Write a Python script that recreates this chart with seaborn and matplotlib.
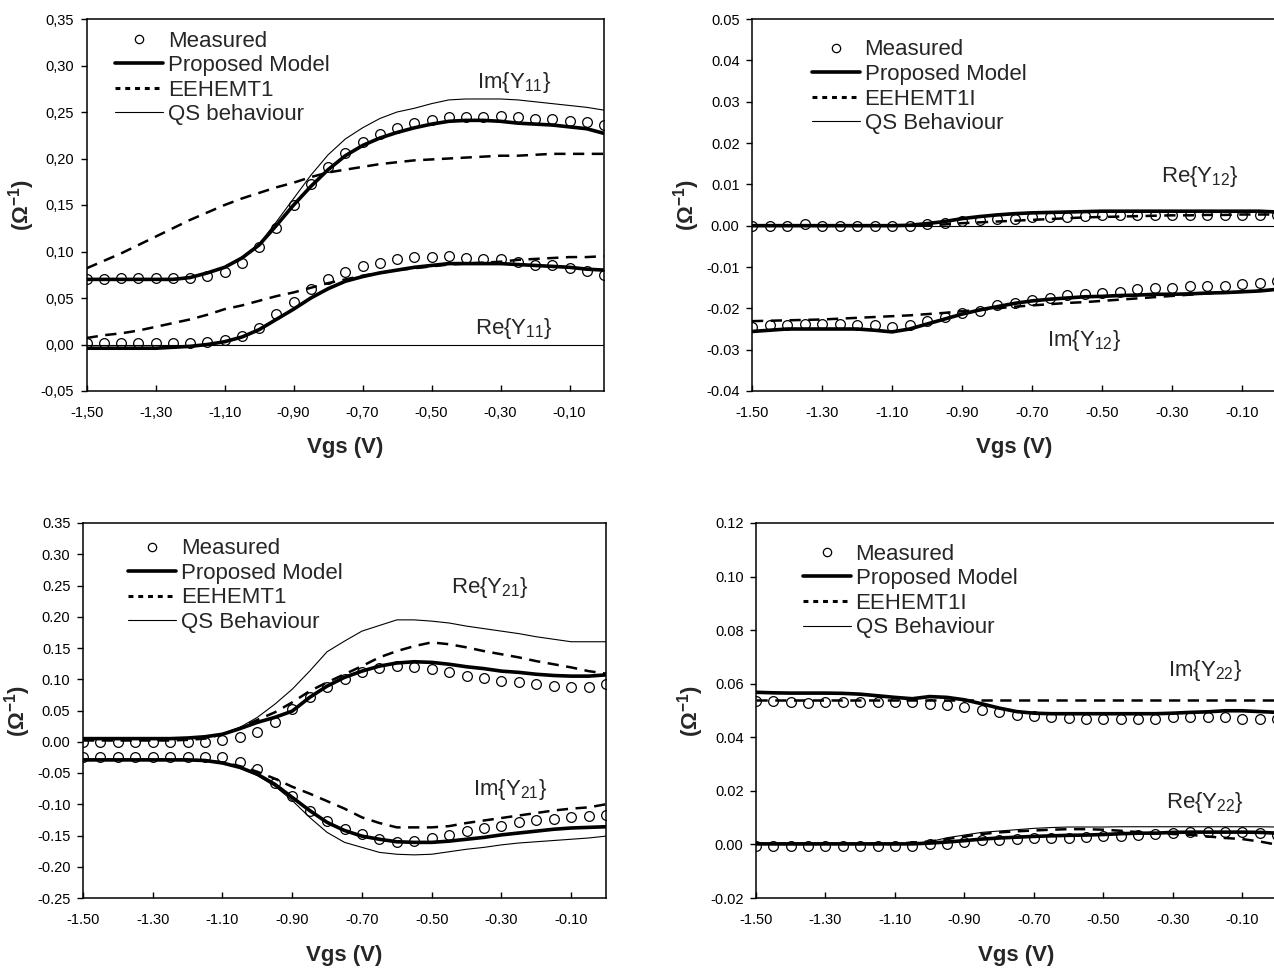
import numpy as np
import pandas as pd
import matplotlib
matplotlib.use("Agg")
import matplotlib.pyplot as plt
from matplotlib.lines import Line2D
from matplotlib.ticker import FixedLocator, FuncFormatter
import seaborn as sns

sns.set_theme(style="white")
plt.rcParams["font.family"] = ["Liberation Sans", "DejaVu Sans"]
plt.rcParams["mathtext.fontset"] = "custom"
plt.rcParams["mathtext.rm"] = "Liberation Sans"
plt.rcParams["mathtext.bf"] = "Liberation Sans:bold"

# Gate bias sweep (V)
vgs = [-1.50, -1.45, -1.40, -1.35, -1.30, -1.25, -1.20, -1.15, -1.10, -1.05,
       -1.00, -0.95, -0.90, -0.85, -0.80, -0.75, -0.70, -0.65, -0.60, -0.55,
       -0.50, -0.45, -0.40, -0.35, -0.30, -0.25, -0.20, -0.15, -0.10, -0.05, 0.00]

# ---- Y11 ----
y11_im_meas = [0.070, 0.070, 0.071, 0.071, 0.071, 0.071, 0.072, 0.074, 0.078, 0.088,
               0.105, 0.125, 0.150, 0.173, 0.191, 0.206, 0.218, 0.226, 0.233, 0.238,
               0.241, 0.245, 0.245, 0.245, 0.246, 0.245, 0.243, 0.243, 0.240, 0.239, 0.236]
y11_im_model = [0.070, 0.070, 0.070, 0.070, 0.070, 0.070, 0.072, 0.077, 0.083, 0.093,
                0.107, 0.128, 0.150, 0.170, 0.188, 0.203, 0.214, 0.222, 0.228, 0.233,
                0.237, 0.240, 0.241, 0.241, 0.240, 0.238, 0.237, 0.236, 0.234, 0.232, 0.227]
y11_im_eehemt = [0.082, 0.090, 0.098, 0.107, 0.116, 0.125, 0.134, 0.142, 0.150, 0.157,
                 0.163, 0.169, 0.174, 0.180, 0.185, 0.188, 0.191, 0.194, 0.196, 0.198,
                 0.199, 0.200, 0.201, 0.202, 0.203, 0.203, 0.204, 0.205, 0.205, 0.205, 0.205]
y11_im_qs = [0.070, 0.070, 0.070, 0.070, 0.070, 0.070, 0.072, 0.077, 0.083, 0.094,
             0.108, 0.132, 0.157, 0.182, 0.204, 0.221, 0.233, 0.243, 0.250, 0.254,
             0.259, 0.263, 0.264, 0.264, 0.264, 0.263, 0.261, 0.259, 0.257, 0.255, 0.252]
y11_re_meas = [0.002, 0.002, 0.002, 0.002, 0.002, 0.002, 0.002, 0.003, 0.005, 0.009,
               0.018, 0.033, 0.046, 0.060, 0.070, 0.078, 0.084, 0.088, 0.092, 0.094,
               0.094, 0.095, 0.093, 0.092, 0.092, 0.089, 0.086, 0.085, 0.082, 0.079, 0.075]
y11_re_model = [-0.004, -0.004, -0.004, -0.004, -0.004, -0.003, -0.002, 0.000, 0.003, 0.008,
                0.016, 0.027, 0.038, 0.050, 0.060, 0.068, 0.073, 0.077, 0.080, 0.083,
                0.085, 0.087, 0.087, 0.087, 0.087, 0.086, 0.085, 0.084, 0.083, 0.081, 0.080]
y11_re_eehemt = [0.007, 0.010, 0.012, 0.015, 0.019, 0.023, 0.027, 0.032, 0.038, 0.042,
                 0.047, 0.052, 0.056, 0.061, 0.066, 0.070, 0.074, 0.077, 0.080, 0.082,
                 0.084, 0.086, 0.087, 0.088, 0.089, 0.091, 0.092, 0.093, 0.094, 0.094, 0.095]
y11_re_qs = [0.0] * 31

# ---- Y12 ----
y12_re_meas = [0.0, 0.0, 0.0, 0.0003, 0.0, 0.0, 0.0, 0.0, 0.0, 0.0,
               0.0005, 0.0007, 0.0012, 0.0013, 0.0015, 0.0017, 0.0020, 0.0020, 0.0022, 0.0023,
               0.0025, 0.0025, 0.0025, 0.0025, 0.0025, 0.0025, 0.0025, 0.0025, 0.0025, 0.0025, 0.0025]
y12_re_model = [0.0, 0.0, 0.0, 0.0, 0.0, 0.0, 0.0, 0.0, 0.0, 0.0001,
                0.0005, 0.0010, 0.0017, 0.0022, 0.0026, 0.0029, 0.0031, 0.0032, 0.0033, 0.0034,
                0.0035, 0.0035, 0.0035, 0.0035, 0.0035, 0.0035, 0.0035, 0.0035, 0.0035, 0.0035, 0.0033]
y12_re_eehemt = [0.0, 0.0, 0.0, 0.0, 0.0, 0.0, 0.0, 0.0, 0.0, 0.0,
                 0.0001, 0.0003, 0.0006, 0.0008, 0.0010, 0.0012, 0.0014, 0.0016, 0.0018, 0.0020,
                 0.0021, 0.0022, 0.0023, 0.0024, 0.0025, 0.0025, 0.0026, 0.0026, 0.0027, 0.0027, 0.0027]
y12_re_qs = [0.0] * 31
y12_im_meas = [-0.0245, -0.0240, -0.0240, -0.0237, -0.0237, -0.0237, -0.0240, -0.0240, -0.0244, -0.0240,
               -0.0230, -0.0222, -0.0212, -0.0206, -0.0192, -0.0186, -0.0180, -0.0174, -0.0168, -0.0166,
               -0.0163, -0.0160, -0.0154, -0.0151, -0.0151, -0.0147, -0.0146, -0.0146, -0.0142, -0.0138, -0.0135]
y12_im_model = [-0.0256, -0.0253, -0.0250, -0.0250, -0.0250, -0.0250, -0.0250, -0.0253, -0.0257, -0.0250,
                -0.0238, -0.0226, -0.0214, -0.0204, -0.0196, -0.0188, -0.0182, -0.0178, -0.0175, -0.0172,
                -0.0171, -0.0169, -0.0168, -0.0166, -0.0166, -0.0165, -0.0163, -0.0162, -0.0160, -0.0158, -0.0154]
y12_im_eehemt = [-0.0231, -0.0230, -0.0229, -0.0228, -0.0227, -0.0225, -0.0223, -0.0221, -0.0219, -0.0217,
                 -0.0214, -0.0211, -0.0207, -0.0204, -0.0200, -0.0196, -0.0193, -0.0190, -0.0187, -0.0185,
                 -0.0182, -0.0179, -0.0176, -0.0173, -0.0170, -0.0167, -0.0164, -0.0162, -0.0160, -0.0157, -0.0155]

# ---- Y21 ----
y21_re_meas = [0.000, 0.000, 0.000, 0.000, 0.000, 0.000, 0.000, 0.000, 0.003, 0.007,
               0.016, 0.032, 0.052, 0.072, 0.087, 0.100, 0.111, 0.118, 0.121, 0.120,
               0.117, 0.112, 0.105, 0.102, 0.098, 0.095, 0.092, 0.090, 0.088, 0.088, 0.092]
y21_re_model = [0.005, 0.005, 0.005, 0.005, 0.005, 0.005, 0.006, 0.008, 0.012, 0.021,
                0.031, 0.039, 0.049, 0.071, 0.089, 0.103, 0.113, 0.121, 0.126, 0.128,
                0.127, 0.124, 0.120, 0.117, 0.113, 0.111, 0.108, 0.106, 0.105, 0.105, 0.107]
y21_re_eehemt = [0.002, 0.002, 0.002, 0.002, 0.002, 0.002, 0.003, 0.005, 0.012, 0.022,
                 0.035, 0.047, 0.063, 0.081, 0.095, 0.108, 0.121, 0.135, 0.145, 0.153,
                 0.159, 0.156, 0.151, 0.145, 0.140, 0.135, 0.129, 0.124, 0.119, 0.113, 0.109]
y21_re_qs = [0.004, 0.004, 0.004, 0.004, 0.004, 0.004, 0.005, 0.007, 0.012, 0.023,
             0.039, 0.060, 0.084, 0.113, 0.144, 0.161, 0.177, 0.186, 0.195, 0.195,
             0.193, 0.190, 0.185, 0.181, 0.177, 0.173, 0.168, 0.164, 0.160, 0.160, 0.160]
y21_im_meas = [-0.024, -0.024, -0.024, -0.024, -0.024, -0.024, -0.024, -0.025, -0.025, -0.033,
               -0.044, -0.066, -0.086, -0.110, -0.126, -0.139, -0.147, -0.156, -0.161, -0.158,
               -0.154, -0.149, -0.142, -0.138, -0.134, -0.129, -0.125, -0.123, -0.120, -0.118, -0.117]
y21_im_model = [-0.029, -0.029, -0.029, -0.029, -0.029, -0.029, -0.029, -0.030, -0.034, -0.041,
                -0.052, -0.068, -0.089, -0.110, -0.129, -0.142, -0.151, -0.156, -0.160, -0.161,
                -0.161, -0.159, -0.156, -0.153, -0.149, -0.146, -0.143, -0.140, -0.138, -0.137, -0.136]
y21_im_eehemt = [-0.029, -0.029, -0.029, -0.029, -0.029, -0.029, -0.029, -0.030, -0.033, -0.039,
                 -0.048, -0.059, -0.072, -0.083, -0.095, -0.107, -0.121, -0.130, -0.137, -0.137,
                 -0.137, -0.135, -0.130, -0.126, -0.122, -0.118, -0.114, -0.110, -0.107, -0.105, -0.100]
y21_im_qs = [-0.029, -0.029, -0.029, -0.029, -0.029, -0.029, -0.029, -0.030, -0.033, -0.041,
             -0.054, -0.071, -0.094, -0.121, -0.145, -0.161, -0.169, -0.177, -0.180, -0.181,
             -0.180, -0.176, -0.172, -0.169, -0.165, -0.162, -0.160, -0.158, -0.156, -0.154, -0.151]

# ---- Y22 ----
y22_im_meas = [0.0534, 0.0536, 0.0531, 0.0527, 0.0531, 0.0531, 0.0531, 0.0531, 0.0530, 0.0530,
               0.0525, 0.0520, 0.0512, 0.0502, 0.0493, 0.0484, 0.0478, 0.0475, 0.0471, 0.0470,
               0.0470, 0.0470, 0.0470, 0.0470, 0.0474, 0.0474, 0.0474, 0.0474, 0.0469, 0.0469, 0.0467]
y22_im_model = [0.0568, 0.0566, 0.0565, 0.0565, 0.0565, 0.0564, 0.0561, 0.0555, 0.0549, 0.0544,
                0.0552, 0.0549, 0.0540, 0.0525, 0.0509, 0.0496, 0.0490, 0.0488, 0.0488, 0.0488,
                0.0488, 0.0488, 0.0488, 0.0488, 0.0490, 0.0493, 0.0495, 0.0499, 0.0499, 0.0496, 0.0493]
y22_im_eehemt = [0.0540, 0.0540, 0.0540, 0.0540, 0.0540, 0.0540, 0.0540, 0.0540, 0.0540, 0.0540,
                 0.0540, 0.0540, 0.0540, 0.0540, 0.0540, 0.0540, 0.0540, 0.0540, 0.0540, 0.0540,
                 0.0540, 0.0540, 0.0540, 0.0540, 0.0540, 0.0540, 0.0540, 0.0540, 0.0540, 0.0540, 0.0540]
y22_re_meas = [-0.0005, -0.0005, -0.0005, -0.0005, -0.0005, -0.0005, -0.0005, -0.0005, -0.0005, -0.0005,
               0.0000, 0.0002, 0.0009, 0.0015, 0.0017, 0.0020, 0.0024, 0.0024, 0.0024, 0.0026,
               0.0030, 0.0032, 0.0036, 0.0039, 0.0042, 0.0046, 0.0046, 0.0046, 0.0046, 0.0042, 0.0036]
y22_re_model = [0.0002, 0.0002, 0.0002, 0.0002, 0.0002, 0.0002, 0.0002, 0.0002, 0.0002, 0.0002,
                0.0005, 0.0009, 0.0014, 0.0020, 0.0024, 0.0027, 0.0030, 0.0032, 0.0034, 0.0035,
                0.0037, 0.0040, 0.0042, 0.0042, 0.0045, 0.0046, 0.0046, 0.0046, 0.0046, 0.0045, 0.0042]
y22_re_eehemt = [0.0002, 0.0002, 0.0002, 0.0002, 0.0002, 0.0002, 0.0002, 0.0002, 0.0002, 0.0007,
                 0.0011, 0.0020, 0.0030, 0.0039, 0.0045, 0.0049, 0.0052, 0.0055, 0.0057, 0.0057,
                 0.0055, 0.0051, 0.0046, 0.0042, 0.0039, 0.0036, 0.0030, 0.0024, 0.0020, 0.0011, -0.0001]
y22_re_qs = [0.0002, 0.0002, 0.0002, 0.0002, 0.0002, 0.0002, 0.0002, 0.0002, 0.0002, 0.0004,
             0.0010, 0.0025, 0.0035, 0.0045, 0.0050, 0.0055, 0.0060, 0.0063, 0.0065, 0.0065,
             0.0065, 0.0066, 0.0066, 0.0066, 0.0066, 0.0066, 0.0066, 0.0066, 0.0066, 0.0066, 0.0065]

x_ticks = [-1.50, -1.30, -1.10, -0.90, -0.70, -0.50, -0.30, -0.10]

# line styles
STY = {
    "qs": dict(color="black", lw=0.8, linestyle="-"),
    "eehemt": dict(color="black", lw=1.8, linestyle=(0, (4.5, 3.0))),
    "model": dict(color="black", lw=2.6, linestyle="-"),
}
LEGEND_EEHEMT = dict(color="black", lw=2.2, linestyle=(0, (1.6, 1.6)))

W, H = 1274, 968
fig = plt.figure(figsize=(W / 100, H / 100), dpi=100)


def px_axes(left, top, right, bottom):
    return fig.add_axes([left / W, 1 - bottom / H, (right - left) / W, (bottom - top) / H])


def draw_curve(ax, y, kind):
    df = pd.DataFrame({"Vgs": vgs, "Y": y})
    sns.lineplot(data=df, x="Vgs", y="Y", ax=ax, estimator=None, sort=False,
                 legend=False, **STY[kind])


def draw_meas(ax, y):
    df = pd.DataFrame({"Vgs": vgs, "Y": y})
    sns.lineplot(data=df, x="Vgs", y="Y", ax=ax, estimator=None, sort=False,
                 legend=False, color="black", linestyle="", marker="o",
                 markersize=7.0, markerfacecolor="none", markeredgecolor="black",
                 markeredgewidth=0.9)


def style_axes(ax, ylim, yticks, comma=False):
    ax.set_xlim(-1.5, 0.0)
    ax.set_ylim(*ylim)
    ax.xaxis.set_major_locator(FixedLocator(x_ticks))
    ax.yaxis.set_major_locator(FixedLocator(yticks))

    def fmt(v, _pos):
        s = f"{v:.2f}"
        if s == "-0.00":
            s = "0.00"
        return s.replace(".", ",") if comma else s

    ax.xaxis.set_major_formatter(FuncFormatter(fmt))
    ax.yaxis.set_major_formatter(FuncFormatter(fmt))
    ax.tick_params(axis="x", direction="in", length=4, width=1.0, pad=11,
                   labelsize=10.5, colors="black", bottom=True)
    ax.tick_params(axis="y", direction="out", length=4, width=1.0, pad=5,
                   labelsize=10.5, colors="black", left=True)
    for sp in ax.spines.values():
        sp.set_visible(True)
        sp.set_color("black")
        sp.set_linewidth(1.1)
    ax.set_xlabel("Vgs (V)", fontsize=16, fontweight="bold", va="center")
    ax.set_ylabel(r"(Ω$^{\mathbf{-1}}$)", fontsize=16, fontweight="bold", va="center")
    ax.xaxis.set_label_coords(0.5, -0.152)
    ax.yaxis.set_label_coords(-0.125, 0.5)
    ax.grid(False)
    ax.set_facecolor("white")


def add_legend(ax, eehemt_label, qs_label, anchor):
    handles = [
        Line2D([], [], linestyle="", marker="o", markersize=6.0, markerfacecolor="none",
               markeredgecolor="black", markeredgewidth=0.9),
        Line2D([], [], **STY["model"]),
        Line2D([], [], **LEGEND_EEHEMT),
        Line2D([], [], **STY["qs"]),
    ]
    labels = ["Measured", "Proposed Model", eehemt_label, qs_label]
    ax.legend(handles, labels, loc="upper left", bbox_to_anchor=anchor,
              frameon=False, fontsize=16, handlelength=2.15, handletextpad=0.22,
              labelspacing=0.16, borderpad=0.0, borderaxespad=0.0, numpoints=1)


ANN = dict(fontsize=16, ha="center", va="center")

# ---------- Y11 ----------
ax1 = px_axes(86.7, 19, 604, 391)
draw_curve(ax1, y11_re_qs, "qs")
draw_curve(ax1, y11_im_qs, "qs")
draw_curve(ax1, y11_im_eehemt, "eehemt")
draw_curve(ax1, y11_re_eehemt, "eehemt")
draw_curve(ax1, y11_im_model, "model")
draw_curve(ax1, y11_re_model, "model")
draw_meas(ax1, y11_im_meas)
draw_meas(ax1, y11_re_meas)
style_axes(ax1, (-0.05, 0.35), [-0.05, 0.0, 0.05, 0.10, 0.15, 0.20, 0.25, 0.30, 0.35], comma=True)
add_legend(ax1, "EEHEMT1", "QS behaviour", (0.055, 0.969))
ax1.text(-0.26, 0.282, r"Im{Y$_{11}$}", **ANN)
ax1.text(-0.26, 0.017, r"Re{Y$_{11}$}", **ANN)

# ---------- Y12 ----------
ax2 = px_axes(752, 19, 1277, 391)
draw_curve(ax2, y12_re_qs, "qs")
draw_curve(ax2, y12_im_eehemt, "eehemt")
draw_curve(ax2, y12_re_eehemt, "eehemt")
draw_curve(ax2, y12_im_model, "model")
draw_curve(ax2, y12_re_model, "model")
draw_meas(ax2, y12_im_meas)
draw_meas(ax2, y12_re_meas)
style_axes(ax2, (-0.04, 0.05), [-0.04, -0.03, -0.02, -0.01, 0.0, 0.01, 0.02, 0.03, 0.04, 0.05])
add_legend(ax2, "EEHEMT1I", "QS Behaviour", (0.114, 0.945))
ax2.text(-0.22, 0.0118, r"Re{Y$_{12}$}", **ANN)
ax2.text(-0.55, -0.0277, r"Im{Y$_{12}$}", **ANN)

# ---------- Y21 ----------
ax3 = px_axes(83, 523, 606, 898)
draw_curve(ax3, y21_re_qs, "qs")
draw_curve(ax3, y21_im_qs, "qs")
draw_curve(ax3, y21_re_eehemt, "eehemt")
draw_curve(ax3, y21_im_eehemt, "eehemt")
draw_curve(ax3, y21_re_model, "model")
draw_curve(ax3, y21_im_model, "model")
draw_meas(ax3, y21_re_meas)
draw_meas(ax3, y21_im_meas)
style_axes(ax3, (-0.25, 0.35), [-0.25, -0.20, -0.15, -0.10, -0.05, 0.0, 0.05, 0.10, 0.15, 0.20, 0.25, 0.30, 0.35])
add_legend(ax3, "EEHEMT1", "QS Behaviour", (0.086, 0.959))
ax3.text(-0.333, 0.246, r"Re{Y$_{21}$}", **ANN)
ax3.text(-0.275, -0.077, r"Im{Y$_{21}$}", **ANN)

# ---------- Y22 ----------
ax4 = px_axes(756, 523, 1277, 898)
draw_curve(ax4, y22_re_qs, "qs")
draw_curve(ax4, y22_im_eehemt, "eehemt")
draw_curve(ax4, y22_re_eehemt, "eehemt")
draw_curve(ax4, y22_im_model, "model")
draw_curve(ax4, y22_re_model, "model")
draw_meas(ax4, y22_im_meas)
draw_meas(ax4, y22_re_meas)
style_axes(ax4, (-0.02, 0.12), [-0.02, 0.0, 0.02, 0.04, 0.06, 0.08, 0.10, 0.12])
add_legend(ax4, "EEHEMT1I", "QS Behaviour", (0.09, 0.945))
ax4.text(-0.206, 0.065, r"Im{Y$_{22}$}", **ANN)
ax4.text(-0.206, 0.0155, r"Re{Y$_{22}$}", **ANN)

fig.savefig("out.png", dpi=100, facecolor="white")
